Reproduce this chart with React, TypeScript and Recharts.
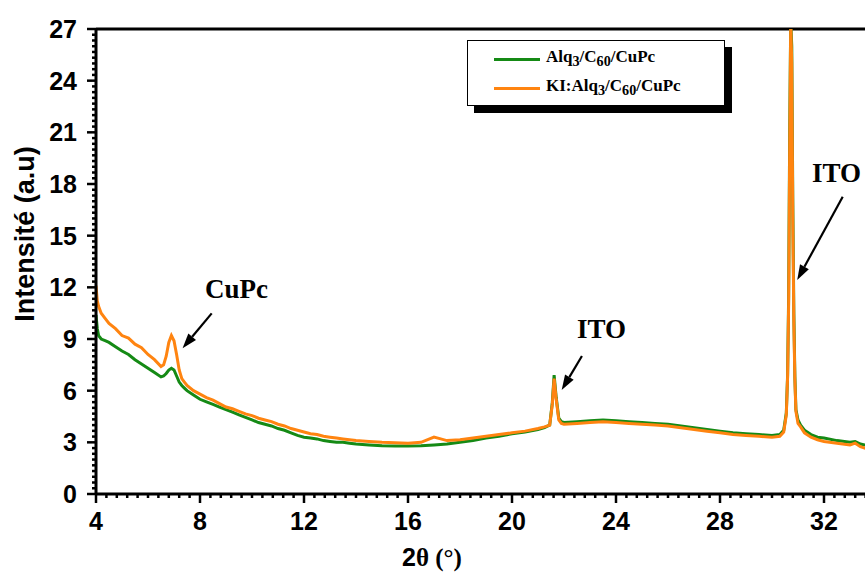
import { LineChart, Line, XAxis, YAxis, ReferenceLine, ReferenceDot } from "recharts";

// 2θ positions (°), denser around the peaks
const twoTheta = [
  4.0, 4.05, 4.1, 4.2, 4.35, 4.5, 4.75, 5.0, 5.25, 5.5, 5.75, 6.0, 6.25, 6.5,
  6.6, 6.7, 6.8, 6.9, 7.0, 7.1, 7.2, 7.3, 7.4, 7.5,
  7.75, 8.0, 8.25, 8.5, 8.75, 9.0, 9.25, 9.5, 9.75, 10.0, 10.25, 10.5, 10.75,
  11.0, 11.25, 11.5, 11.75, 12.0, 12.25, 12.5, 12.75, 13.0, 13.25, 13.5, 13.75, 14.0,
  14.5, 15.0, 15.5, 16.0, 16.5, 17.0, 17.5, 18.0, 18.5, 19.0, 19.5, 20.0, 20.5, 21.0,
  21.25, 21.45, 21.55, 21.62, 21.7, 21.8, 21.9, 22.0,
  22.5, 23.0, 23.5, 24.0, 24.5, 25.0, 25.5, 26.0, 26.5, 27.0, 27.5, 28.0, 28.5, 29.0, 29.5, 30.0,
  30.3, 30.45, 30.55, 30.6, 30.64, 30.68, 30.72, 30.76, 30.8, 30.84, 30.88, 30.92, 31.0, 31.1,
  31.25, 31.5, 31.75, 32.0, 32.5, 33.0, 33.2, 33.4, 33.7, 34.0,
];

// Alq3/C60/CuPc (green)
const alqC60CuPc = [
  10.4, 9.6, 9.2, 9.0, 8.9, 8.8, 8.55, 8.3, 8.1, 7.8, 7.55, 7.3, 7.05, 6.8,
  6.85, 7.0, 7.2, 7.3, 7.2, 6.85, 6.5, 6.3, 6.15, 6.0,
  5.75, 5.5, 5.35, 5.2, 5.05, 4.9, 4.75, 4.6, 4.45, 4.3, 4.15, 4.05, 3.95,
  3.8, 3.7, 3.55, 3.4, 3.3, 3.25, 3.2, 3.1, 3.05, 3.0, 3.0, 2.95, 2.9,
  2.85, 2.8, 2.78, 2.78, 2.8, 2.85, 2.9, 3.0, 3.1, 3.25, 3.35, 3.5, 3.6, 3.75,
  3.85, 4.0, 5.3, 6.9, 5.6, 4.4, 4.2, 4.15,
  4.2, 4.25, 4.3, 4.25, 4.2, 4.15, 4.1, 4.05, 3.95, 3.85, 3.75, 3.65, 3.55, 3.5, 3.45, 3.4,
  3.45, 3.7, 4.7, 6.9, 11.5, 21, 27.5, 26, 17, 10.5, 6.8, 4.9, 4.3, 4.0,
  3.7, 3.45, 3.3, 3.25, 3.1, 3.0, 3.05, 2.9, 2.8, 2.75,
];

// KI:Alq3/C60/CuPc (orange)
const kiAlqC60CuPc = [
  12.1, 11.2, 10.9, 10.5, 10.2, 9.9, 9.6, 9.2, 9.05, 8.7, 8.5, 8.1, 7.8, 7.4,
  7.5, 8.0, 8.8, 9.2, 8.9, 8.1, 7.2, 6.7, 6.5, 6.3,
  6.0, 5.8, 5.6, 5.45, 5.25, 5.05, 4.95, 4.8, 4.65, 4.55, 4.4, 4.3, 4.2,
  4.05, 3.95, 3.8, 3.7, 3.6, 3.5, 3.45, 3.35, 3.3, 3.25, 3.2, 3.15, 3.1,
  3.05, 3.0, 2.98, 2.95, 3.0, 3.3, 3.1, 3.15, 3.25, 3.35, 3.45, 3.55, 3.65, 3.8,
  3.9, 4.0, 5.2, 6.7, 5.5, 4.3, 4.1, 4.05,
  4.1, 4.15, 4.2, 4.15, 4.1, 4.05, 4.0, 3.95, 3.85, 3.75, 3.65, 3.55, 3.45, 3.4, 3.35, 3.3,
  3.35, 3.6, 4.6, 6.8, 11, 20, 27.5, 25, 16, 10, 6.6, 4.8, 4.1, 3.9,
  3.55, 3.3, 3.15, 3.05, 2.95, 2.85, 2.95, 2.75, 2.6, 2.5,
];

const seriesNames = ["Alq3/C60/CuPc", "KI:Alq3/C60/CuPc"];
const seriesColors = ["#158a15", "#ff8410"];

// major every 4° with minor every 0.4°, major every 3 with minor every 1/3
const xTicks = Array.from({ length: 76 }, (_, i) => +(4 + i * 0.4).toFixed(2));
const yTicks = Array.from({ length: 82 }, (_, i) => i / 3);

// annotations: [x, y] in data units
const labels = [
  { text: "CuPc", x: 8.19, y: 11.36 },
  { text: "ITO", x: 22.5, y: 9.06 },
  { text: "ITO", x: 31.54, y: 18.14 },
];
const arrows = [
  [{ x: 8.45, y: 10.49 }, { x: 7.33, y: 8.46 }],
  [{ x: 22.69, y: 8.01 }, { x: 21.91, y: 6.04 }],
  [{ x: 32.72, y: 17.26 }, { x: 30.97, y: 12.43 }],
];

const data = twoTheta.map((x, i) => ({
  x,
  alq: alqC60CuPc[i],
  ki: kiAlqC60CuPc[i],
}));

const sans = "'Liberation Sans', Arial, sans-serif";
const serif = "'Liberation Serif', 'Times New Roman', serif";

const XTick = (p: any) => {
  const { x, y, payload } = p;
  const v = payload.value;
  const major = Math.abs(v / 4 - Math.round(v / 4)) < 1e-6;
  return (
    <g>
      <line x1={x} x2={x} y1={y} y2={y + (major ? 9 : 4)} stroke='#000' strokeWidth={2.5} />
      {major && (
        <text x={x} y={y + 36} textAnchor='middle' fontFamily={sans} fontWeight='bold' fontSize={25} fill='#000'>
          {Math.round(v)}
        </text>
      )}
    </g>
  );
};

const YTick = (p: any) => {
  const { x, y, payload } = p;
  const v = payload.value;
  const major = Math.abs(v / 3 - Math.round(v / 3)) < 1e-6;
  return (
    <g>
      <line x1={x} x2={x - (major ? 9 : 4)} y1={y} y2={y} stroke='#000' strokeWidth={2.5} />
      {major && (
        <text x={x - 19} y={y + 9} textAnchor='end' fontFamily={sans} fontWeight='bold' fontSize={25} fill='#000'>
          {Math.round(v)}
        </text>
      )}
    </g>
  );
};

const Arrow = (p: any) => {
  const { x1, y1, x2, y2 } = p;
  const a = Math.atan2(y2 - y1, x2 - x1);
  const len = 15;
  const w = 5;
  const bx = x2 - len * Math.cos(a);
  const by = y2 - len * Math.sin(a);
  const pts = `${x2},${y2} ${bx + w * Math.sin(a)},${by - w * Math.cos(a)} ${bx - w * Math.sin(a)},${by + w * Math.cos(a)}`;
  return (
    <g>
      <line x1={x1} y1={y1} x2={bx} y2={by} stroke='#000' strokeWidth={2.2} />
      <polygon points={pts} fill='#000' />
    </g>
  );
};

export default function App() {
  return (
    <div style={{ position: "fixed", left: 0, top: 0, width: 865, height: 572, overflow: "hidden", background: "#fff" }}>
      <div style={{ position: "absolute", left: 8, top: 8 }}>
        <LineChart width={870} height={564} data={data} margin={{ top: 21, right: 2, bottom: 0, left: 0 }}>
          <XAxis
            dataKey='x'
            type='number'
            domain={[4, 34]}
            ticks={xTicks}
            interval={0}
            tick={<XTick />}
            tickLine={false}
            tickSize={0}
            tickMargin={0}
            height={78}
            axisLine={{ stroke: "#000", strokeWidth: 3 }}
            allowDataOverflow
            label={{
              content: () => (
                <text x={424} y={558} textAnchor='middle' fontSize={25} fill='#000' fontWeight='bold'>
                  <tspan fontFamily={sans}>2</tspan>
                  <tspan fontFamily={serif}>θ (°)</tspan>
                </text>
              ),
            }}
          />
          <YAxis
            type='number'
            domain={[0, 27]}
            ticks={yTicks}
            interval={0}
            tick={<YTick />}
            tickLine={false}
            tickSize={0}
            tickMargin={0}
            width={88}
            axisLine={{ stroke: "#000", strokeWidth: 3 }}
            allowDataOverflow
            label={{
              content: () => (
                <text
                  x={17}
                  y={226}
                  transform='rotate(-90 17 226)'
                  textAnchor='middle'
                  dominantBaseline='central'
                  fontFamily={sans}
                  fontWeight='bold'
                  fontSize={27}
                  fill='#000'
                >
                  Intensité (a.u)
                </text>
              ),
            }}
          />
          <ReferenceLine y={27} stroke='#000' strokeWidth={3} />
          <Line
            dataKey='alq'
            name={seriesNames[0]}
            stroke={seriesColors[0]}
            strokeWidth={3}
            dot={false}
            type='linear'
            isAnimationActive={false}
          />
          <Line
            dataKey='ki'
            name={seriesNames[1]}
            stroke={seriesColors[1]}
            strokeWidth={3}
            dot={false}
            type='linear'
            isAnimationActive={false}
          />
          {arrows.map((seg, i) => (
            <ReferenceLine key={`arrow-${i}`} segment={seg} shape={<Arrow />} />
          ))}
          {labels.map((l, i) => (
            <ReferenceDot
              key={`lab-${i}`}
              x={l.x}
              y={l.y}
              shape={(p: any) => (
                <text x={p.cx} y={p.cy} fontFamily={serif} fontWeight='bold' fontSize={27} fill='#000'>
                  {l.text}
                </text>
              )}
            />
          ))}
        </LineChart>

        <div
          style={{
            position: "absolute",
            left: 459,
            top: 32,
            width: 256,
            height: 64,
            border: "1.5px solid #000",
            boxShadow: "7px 7px 0 #000",
            background: "#fff",
            fontFamily: serif,
            fontWeight: "bold",
            fontSize: 17,
          }}
        >
          {[
            <>Alq<sub>3</sub>/C<sub>60</sub>/CuPc</>,
            <>KI:Alq<sub>3</sub>/C<sub>60</sub>/CuPc</>,
          ].map((t, i) => (
            <div
              key={i}
              style={{ position: "absolute", left: 26, top: 6 + i * 29, height: 24, display: "flex", alignItems: "center", gap: 6 }}
            >
              <span style={{ width: 46, height: 3, background: seriesColors[i], display: "inline-block" }} />
              <span style={{ lineHeight: "20px" }}>{t}</span>
            </div>
          ))}
        </div>
      </div>
    </div>
  );
}
